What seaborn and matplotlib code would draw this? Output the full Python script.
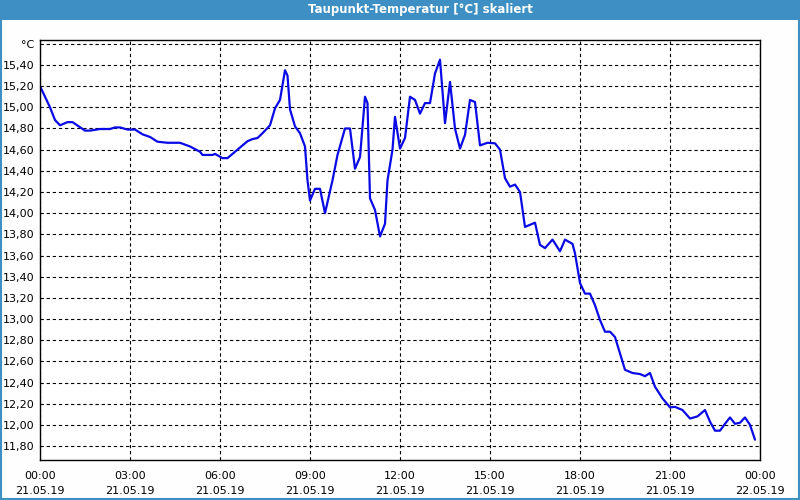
import matplotlib
matplotlib.use("Agg")
import matplotlib.pyplot as plt
import matplotlib.dates as mdates
from matplotlib.ticker import FixedLocator, FuncFormatter
from matplotlib.patches import Rectangle
import numpy as np
import pandas as pd
import seaborn as sns

# ---- data ----
times = ["00:00", "00:20", "00:30", "00:40", "00:55", "01:05", "01:30", "01:40", "02:00", "02:20",
         "02:30", "02:40", "02:55", "03:10", "03:25", "03:40", "03:55", "04:15", "04:40", "05:00",
         "05:20", "05:25", "05:45", "05:50", "06:05", "06:15", "06:35", "06:55", "07:05", "07:15",
         "07:25", "07:40", "07:50", "08:00", "08:10", "08:15", "08:20", "08:30", "08:40", "08:50",
         "08:55", "09:00", "09:10", "09:20", "09:30", "09:45", "09:55", "10:10", "10:20", "10:30",
         "10:40", "10:50", "10:55", "11:00", "11:10", "11:20", "11:30", "11:35", "11:45", "11:50",
         "12:00", "12:10", "12:20", "12:30", "12:40", "12:50", "13:00", "13:10", "13:20", "13:30",
         "13:40", "13:50", "14:00", "14:10", "14:20", "14:30", "14:40", "14:55", "15:10", "15:20",
         "15:30", "15:40", "15:50", "16:00", "16:10", "16:20", "16:30", "16:40", "16:50", "17:05",
         "17:20", "17:30", "17:45", "17:50", "18:00", "18:10", "18:20", "18:30", "18:40", "18:50",
         "19:00", "19:10", "19:30", "19:45", "20:00", "20:10", "20:20", "20:30", "20:45", "21:00",
         "21:10", "21:25", "21:40", "21:55", "22:10", "22:20", "22:30", "22:40", "22:50", "23:00",
         "23:10", "23:20", "23:30", "23:40", "23:50"]
dewpoint = [15.20, 15.00, 14.88, 14.83, 14.86, 14.86, 14.78, 14.78, 14.795, 14.795,
            14.81, 14.81, 14.79, 14.79, 14.745, 14.72, 14.675, 14.665, 14.665, 14.63,
            14.58, 14.55, 14.55, 14.56, 14.52, 14.52, 14.60, 14.68, 14.70, 14.71,
            14.755, 14.83, 14.99, 15.07, 15.35, 15.30, 14.98, 14.82, 14.755, 14.63,
            14.31, 14.12, 14.23, 14.23, 14.00, 14.31, 14.55, 14.80, 14.80, 14.42,
            14.53, 15.10, 15.04, 14.14, 14.03, 13.78, 13.90, 14.31, 14.60, 14.91,
            14.61, 14.71, 15.10, 15.07, 14.94, 15.04, 15.04, 15.32, 15.45, 14.85,
            15.24, 14.80, 14.61, 14.74, 15.07, 15.05, 14.64, 14.665, 14.66, 14.60,
            14.33, 14.25, 14.27, 14.20, 13.87, 13.89, 13.91, 13.70, 13.67, 13.75,
            13.64, 13.75, 13.71, 13.62, 13.34, 13.24, 13.24, 13.13, 12.99, 12.88,
            12.88, 12.83, 12.52, 12.49, 12.48, 12.46, 12.49, 12.36, 12.25, 12.165,
            12.17, 12.14, 12.06, 12.08, 12.14, 12.03, 11.945, 11.945, 12.01, 12.07,
            12.01, 12.02, 12.07, 12.00, 11.86]
y_ticks = [11.8, 12.0, 12.2, 12.4, 12.6, 12.8, 13.0, 13.2, 13.4, 13.6, 13.8, 14.0,
           14.2, 14.4, 14.6, 14.8, 15.0, 15.2, 15.4, 15.6]
title = "Taupunkt-Temperatur [°C] skaliert"
day = "2019-05-21"

df = pd.DataFrame({"time": pd.to_datetime([f"{day} {t}" for t in times]),
                   "value": dewpoint})

sns.set_style("white")
plt.rcParams["font.family"] = ["DejaVu Sans"]

fig = plt.figure(figsize=(8, 5), dpi=100)
fig.patch.set_facecolor("#fdfefd")
ax = fig.add_axes([0.05, 0.08, 0.90, 0.84])
ax.set_facecolor("white")

sns.lineplot(data=df, x="time", y="value", ax=ax, color="#0a0ae6", linewidth=1.6)

start = pd.Timestamp(day)
ax.set_xlim(start, start + pd.Timedelta(hours=24))
ax.set_ylim(11.668, 15.636)

ax.xaxis.set_major_locator(mdates.HourLocator(byhour=range(0, 24, 3)))
ax.xaxis.set_minor_locator(mdates.HourLocator())
ax.xaxis.set_major_formatter(mdates.DateFormatter("%H:%M\n%d.%m.%y"))
ax.yaxis.set_major_locator(FixedLocator(y_ticks))


def yfmt(v, pos):
    if abs(v - 15.6) < 1e-6:
        return "°C"
    return f"{v:.2f}".replace(".", ",")


ax.yaxis.set_major_formatter(FuncFormatter(yfmt))

ax.grid(True, which="major", color="black", linestyle=(0, (3, 2.5)), linewidth=0.8)
ax.tick_params(axis="y", length=0, pad=4, labelsize=8, colors="black")
ax.tick_params(axis="x", which="major", length=4, width=0.8, pad=4, labelsize=8,
               colors="black", direction="out")
ax.tick_params(axis="x", which="minor", length=3, width=0.8, direction="out")
for lbl in ax.get_xticklabels():
    lbl.set_linespacing(1.55)
for s in ax.spines.values():
    s.set_color("black")
    s.set_linewidth(1.0)
    s.set_visible(True)
ax.set_xlabel("")
ax.set_ylabel("")

# title bar
fig.patches.append(Rectangle((0, 0.96), 1, 0.04, transform=fig.transFigure,
                             facecolor="#3d8fc4", edgecolor="none", zorder=0))
fig.text(0.525, 0.98, title, color="white", fontsize=8.5, fontweight="bold",
         ha="center", va="center")
# window border
fig.patches.append(Rectangle((0.001, 0.002), 0.998, 0.996, transform=fig.transFigure,
                             facecolor="none", edgecolor="#3d8fc4", linewidth=1.5,
                             zorder=5))

fig.savefig("out.png", dpi=100, facecolor=fig.get_facecolor())
